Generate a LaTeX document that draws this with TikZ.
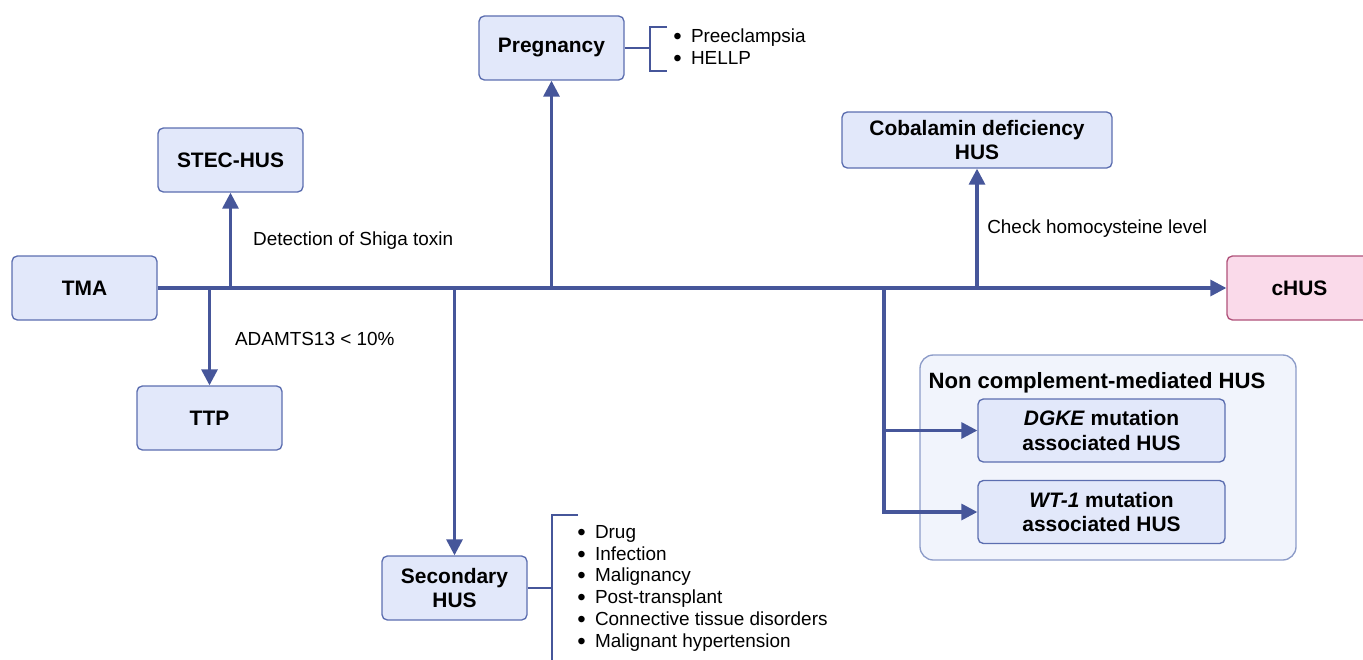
\documentclass[tikz,border=0pt]{standalone}
\usepackage{fontspec}
\setmainfont{Liberation Sans}
\usepackage{xcolor}
\usetikzlibrary{arrows.meta}
\definecolor{lineblue}{RGB}{70,86,154}
\definecolor{boxfill}{RGB}{226,232,250}
\definecolor{boxedge}{RGB}{92,110,176}
\definecolor{groupfill}{RGB}{241,244,252}
\definecolor{groupedge}{RGB}{140,155,200}
\definecolor{pinkfill}{RGB}{250,218,234}
\definecolor{pinkedge}{RGB}{176,82,122}
\newcommand{\bul}{\raisebox{-0.2ex}{\fontsize{18}{16}\selectfont\textbullet}}

\begin{document}
\begin{tikzpicture}[x=0.75pt,y=-0.75pt,
            box/.style={draw=boxedge, fill=boxfill, rounded corners=4pt, line width=1pt,
                minimum width=108.75pt, minimum height=48pt, align=center, inner sep=2pt,
                font=\bfseries\fontsize{15.7}{18.5}\selectfont},
            conn/.style={draw=lineblue, line width=2.4pt},
            arr/.style={conn, -{Triangle[length=12pt,width=12pt]}},
            brack/.style={draw=lineblue, line width=1.9pt},
            txt/.style={anchor=west, inner sep=0pt, font=\fontsize{14.2}{16.3}\selectfont}]
        \useasboundingbox (0,0) rectangle (1363,660);

        \node[draw=groupedge, fill=groupfill, rounded corners=10pt, line width=1pt,
            minimum width=282pt, minimum height=153.75pt] (group) at (1108,457.5) {};
        \node[font=\bfseries\fontsize{16.6}{19}\selectfont] (grouptitle) at (1097,383) {Non complement-mediated HUS};

        \node[box] (TMA) at (84.5,288) {TMA};
        \node[box, fill=pinkfill, draw=pinkedge] (cHUS) at (1299.5,288) {cHUS};
        \node[box] (STEC) at (230.5,160) {STEC-HUS};
        \node[box] (TTP) at (209.5,418) {TTP};
        \node[box] (preg) at (551.5,48) {Pregnancy};
        \node[box, minimum width=202.5pt, minimum height=42pt] (cobal) at (977,140) {Cobalamin deficiency\\HUS};
        \node[box] (sec) at (454.5,588) {Secondary\\HUS};
        \node[box, minimum width=185.25pt, minimum height=47.25pt] (dgke) at (1101.5,430.5) {\textit{DGKE} mutation\\associated HUS};
        \node[box, minimum width=185.25pt, minimum height=47.25pt] (wt) at (1101.5,512) {\textit{WT-1} mutation\\associated HUS};

        \draw[arr] (TMA.east) -- (cHUS.west);
        \draw[arr] (STEC.south |- TMA.east) -- node[txt, xshift=15.75pt]{Detection of Shiga toxin} (STEC.south);
        \draw[arr] (TTP.north |- TMA.east) -- node[txt, xshift=18pt, yshift=-1.5pt]{ADAMTS13 < 10\%} (TTP.north);
        \draw[arr] (preg.south |- TMA.east) -- (preg.south);
        \draw[arr] (cobal.south |- TMA.east) -- node[txt, xshift=6.5pt]{Check homocysteine level} (cobal.south);
        \draw[arr] (sec.north |- TMA.east) -- (sec.north);

        \coordinate (split) at (884,288);
        \draw[arr] (split) |- (dgke.west);
        \draw[arr] (split) |- (wt.west);

        \draw[brack] (preg.east) -- (650,48);
        \draw[brack] (667,27) -- (650,27) -- (650,71) -- (667,71);
        \node[txt] (preglist) at (673,49.5) {\begin{tabular}{@{}l@{\hspace{7pt}}l@{}}
            \bul & Preeclampsia\\ \bul & HELLP\end{tabular}};

        \draw[brack] (sec.east) -- (552,588);
        \draw[brack] (578,515) -- (552,515) -- (552,665);
        \node[txt] (seclist) at (577,588.5) {\begin{tabular}{@{}l@{\hspace{7pt}}l@{}}
            \bul & Drug\\ \bul & Infection\\ \bul & Malignancy\\
            \bul & Post-transplant\\ \bul & Connective tissue disorders\\
            \bul & Malignant hypertension\end{tabular}};
    \end{tikzpicture}
\end{document}
